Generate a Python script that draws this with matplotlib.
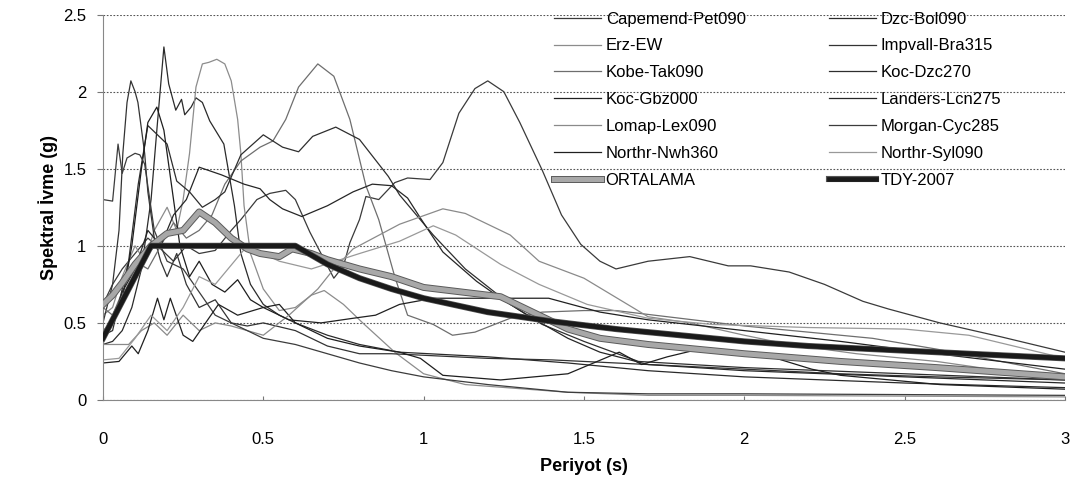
import matplotlib
matplotlib.use("Agg")
import matplotlib.pyplot as plt
import matplotlib.patheffects as pe

plt.rcParams['font.family'] = ['Liberation Sans', 'DejaVu Sans']

# Period (s) / spectral acceleration (g) pairs
t_capemend = [0, 0.03, 0.06, 0.1, 0.14, 0.18, 0.22, 0.26, 0.3, 0.35, 0.4, 0.43, 0.48, 0.52, 0.57, 0.6,
              0.645, 0.7, 0.72, 0.75, 0.77, 0.8, 0.82, 0.86, 0.91, 0.95, 1.02, 1.06, 1.11, 1.16, 1.2,
              1.25, 1.3, 1.37, 1.43, 1.49, 1.55, 1.6, 1.7, 1.83, 1.95, 2.02, 2.14, 2.25, 2.37, 2.45,
              2.61, 2.8, 3.0]
sa_capemend = [0.62, 0.75, 0.85, 0.95, 1.05, 0.98, 0.9, 1.0, 0.95, 0.97, 1.1, 1.17, 1.3, 1.34, 1.36, 1.3,
               1.09, 0.87, 0.79, 0.87, 1.02, 1.17, 1.32, 1.3, 1.41, 1.44, 1.43, 1.54, 1.86, 2.02, 2.07,
               2.0, 1.8, 1.49, 1.2, 1.01, 0.9, 0.85, 0.9, 0.93, 0.87, 0.87, 0.83, 0.75, 0.64, 0.59,
               0.5, 0.41, 0.31]

t_dzc_bol = [0, 0.03, 0.06, 0.09, 0.12, 0.15, 0.17, 0.19, 0.205, 0.227, 0.245, 0.255, 0.275, 0.29, 0.31,
             0.333, 0.377, 0.41, 0.43, 0.46, 0.5, 0.55, 0.6, 0.7, 0.8, 0.925, 1.2, 1.45, 1.7, 2.0, 2.5, 3.0]
sa_dzc_bol = [0.36, 0.38, 0.45, 0.6, 0.85, 1.3, 1.8, 2.29, 2.05, 1.88, 1.95, 1.85, 1.9, 1.96, 1.93,
              1.81, 1.66, 1.26, 0.95, 0.75, 0.62, 0.55, 0.5, 0.42, 0.36, 0.31, 0.28, 0.24, 0.19, 0.15, 0.11, 0.08]

t_erz = [0, 0.03, 0.06, 0.1, 0.13, 0.16, 0.2, 0.23, 0.25, 0.27, 0.29, 0.31, 0.33, 0.355, 0.38, 0.4,
         0.42, 0.43, 0.44, 0.46, 0.5, 0.55, 0.6, 0.65, 0.69, 0.75, 0.81, 0.91, 1.0, 1.13, 1.45, 1.7, 2.0, 3.0]
sa_erz = [0.55, 0.6, 0.8, 1.0, 0.9, 1.1, 1.25, 1.1, 1.3, 1.6, 2.03, 2.18, 2.19, 2.21, 2.18, 2.07,
          1.82, 1.6, 1.26, 0.95, 0.72, 0.58, 0.6, 0.68, 0.71, 0.62, 0.5, 0.31, 0.17, 0.1, 0.05, 0.03, 0.03, 0.02]

t_impvall = [0, 0.03, 0.05, 0.062, 0.075, 0.087, 0.1, 0.109, 0.13, 0.14, 0.16, 0.18, 0.2, 0.23, 0.26, 0.3,
             0.35, 0.4, 0.45, 0.5, 0.6, 0.7, 0.8, 0.9, 1.0, 1.2, 1.4, 1.6, 1.8, 2.0, 2.3, 2.6, 3.0]
sa_impvall = [0.5, 0.75, 1.1, 1.6, 1.93, 2.07, 2.0, 1.93, 1.6, 1.35, 1.05, 0.9, 0.8, 0.95, 0.75, 0.6,
              0.65, 0.5, 0.48, 0.5, 0.45, 0.35, 0.3, 0.3, 0.29, 0.27, 0.26, 0.24, 0.22, 0.2, 0.17, 0.15, 0.13]

t_kobe = [0, 0.03, 0.06, 0.1, 0.14, 0.18, 0.22, 0.26, 0.3, 0.34, 0.38, 0.43, 0.49, 0.53, 0.57, 0.61,
          0.67, 0.72, 0.77, 0.82, 0.86, 0.91, 0.95, 1.03, 1.09, 1.16, 1.27, 1.37, 1.5, 1.6, 1.8, 2.0,
          2.2, 2.4, 2.6, 2.8, 3.0]
sa_kobe = [0.6, 0.55, 0.7, 0.9, 0.85, 1.0, 1.15, 1.05, 1.1, 1.2, 1.4, 1.55, 1.64, 1.68, 1.82, 2.03,
           2.18, 2.1, 1.82, 1.39, 1.17, 0.8, 0.55, 0.49, 0.42, 0.44, 0.53, 0.57, 0.58, 0.58, 0.53, 0.48,
           0.44, 0.4, 0.33, 0.25, 0.17]

t_koc_dzc = [0, 0.03, 0.08, 0.11, 0.14, 0.17, 0.2, 0.23, 0.27, 0.31, 0.35, 0.38, 0.43, 0.5, 0.56, 0.61,
             0.654, 0.726, 0.8, 0.89, 0.925, 1.03, 1.13, 1.27, 1.37, 1.5, 1.67, 2.0, 2.5, 3.0]
sa_koc_dzc = [0.42, 0.45, 0.9, 1.4, 1.78, 1.72, 1.66, 1.42, 1.35, 1.25, 1.3, 1.35, 1.59, 1.72, 1.64, 1.61,
              1.71, 1.77, 1.69, 1.45, 1.33, 1.07, 0.85, 0.62, 0.49, 0.38, 0.25, 0.21, 0.17, 0.13]

t_koc_gbz = [0, 0.03, 0.06, 0.09, 0.12, 0.14, 0.168, 0.19, 0.21, 0.24, 0.27, 0.3, 0.34, 0.38, 0.42, 0.46,
             0.5, 0.55, 0.6, 0.7, 0.8, 0.925, 0.99, 1.06, 1.24, 1.45, 1.61, 1.68, 1.76, 1.86, 2.02, 2.1,
             2.21, 2.3, 2.61, 3.0]
sa_koc_gbz = [0.4, 0.5, 0.65, 1.0, 1.5, 1.8, 1.9, 1.75, 1.45, 1.0, 0.8, 0.9, 0.75, 0.7, 0.78, 0.65,
              0.6, 0.62, 0.5, 0.4, 0.35, 0.31, 0.27, 0.16, 0.13, 0.17, 0.31, 0.23, 0.28, 0.33, 0.31, 0.27,
              0.2, 0.16, 0.1, 0.07]

t_landers = [0, 0.03, 0.06, 0.1, 0.14, 0.18, 0.22, 0.26, 0.3, 0.37, 0.44, 0.49, 0.52, 0.56, 0.62, 0.7,
             0.78, 0.84, 0.9, 0.95, 0.99, 1.06, 1.165, 1.24, 1.34, 1.45, 1.55, 1.7, 2.0, 2.5, 3.0]
sa_landers = [0.45, 0.5, 0.7, 0.85, 1.1, 1.0, 1.2, 1.3, 1.51, 1.46, 1.4, 1.37, 1.3, 1.24, 1.19, 1.26,
              1.35, 1.4, 1.39, 1.31, 1.18, 0.96, 0.77, 0.66, 0.53, 0.4, 0.31, 0.23, 0.19, 0.15, 0.11]

t_lomap = [0, 0.08, 0.12, 0.16, 0.2, 0.25, 0.3, 0.35, 0.4, 0.5, 0.58, 0.67, 0.72, 0.78, 0.925, 1.06,
           1.13, 1.27, 1.36, 1.5, 1.7, 1.83, 2.0, 2.14, 2.35, 2.6, 2.8, 3.0]
sa_lomap = [0.36, 0.36, 0.45, 0.5, 0.42, 0.55, 0.45, 0.5, 0.48, 0.42, 0.55, 0.72, 0.85, 0.98, 1.14, 1.24,
            1.21, 1.07, 0.9, 0.79, 0.54, 0.5, 0.42, 0.36, 0.3, 0.25, 0.19, 0.16]

t_morgan = [0, 0.03, 0.047, 0.06, 0.075, 0.1, 0.115, 0.13, 0.16, 0.2, 0.25, 0.3, 0.35, 0.4, 0.5, 0.6,
            0.7, 0.8, 0.9, 1.0, 1.2, 1.45, 1.7, 2.0, 2.5, 3.0]
sa_morgan = [1.3, 1.29, 1.66, 1.47, 1.57, 1.6, 1.59, 1.53, 1.1, 0.9, 0.85, 0.7, 0.55, 0.5, 0.4, 0.36,
             0.3, 0.24, 0.19, 0.15, 0.1, 0.05, 0.04, 0.04, 0.035, 0.03]

t_nwh = [0, 0.05, 0.09, 0.11, 0.14, 0.17, 0.19, 0.21, 0.25, 0.28, 0.32, 0.36, 0.42, 0.5, 0.58, 0.68,
         0.78, 0.85, 0.925, 1.03, 1.24, 1.39, 1.55, 1.7, 2.0, 2.3, 2.6, 3.0]
sa_nwh = [0.24, 0.25, 0.35, 0.3, 0.45, 0.66, 0.52, 0.66, 0.42, 0.38, 0.5, 0.62, 0.55, 0.6, 0.52, 0.5,
          0.53, 0.55, 0.62, 0.66, 0.66, 0.66, 0.57, 0.52, 0.45, 0.38, 0.3, 0.2]

t_syl = [0, 0.05, 0.1, 0.15, 0.2, 0.25, 0.3, 0.35, 0.45, 0.55, 0.65, 0.8, 0.925, 1.03, 1.1, 1.24, 1.36,
         1.51, 1.7, 1.9, 2.2, 2.5, 2.7, 3.0]
sa_syl = [0.26, 0.27, 0.4, 0.55, 0.45, 0.6, 0.8, 0.75, 1.0, 0.9, 0.85, 0.95, 1.03, 1.13, 1.07, 0.88, 0.75,
          0.62, 0.53, 0.49, 0.47, 0.46, 0.42, 0.27]

t_ort = [0, 0.03, 0.06, 0.1, 0.15, 0.2, 0.25, 0.3, 0.35, 0.4, 0.45, 0.49, 0.55, 0.59, 0.65, 0.7, 0.8,
         0.9, 1.0, 1.08, 1.24, 1.34, 1.45, 1.55, 1.7, 2.0, 2.3, 2.6, 3.0]
sa_ort = [0.62, 0.68, 0.76, 0.88, 1.0, 1.08, 1.1, 1.22, 1.15, 1.05, 0.98, 0.95, 0.93, 0.98, 0.95, 0.91, 0.85,
          0.8, 0.73, 0.71, 0.67, 0.57, 0.46, 0.4, 0.36, 0.3, 0.25, 0.21, 0.15]

t_tdy = [0, 0.15, 0.6, 0.7, 0.8, 0.9, 1.0, 1.2, 1.4, 1.6, 1.8, 2.0, 2.2, 2.4, 2.6, 2.8, 3.0]
sa_tdy = [0.4, 1.0, 1.0, 0.88, 0.79, 0.72, 0.66, 0.57, 0.51, 0.46, 0.42, 0.38, 0.35, 0.33, 0.31, 0.29, 0.27]

records = [
    ("Capemend-Pet090", t_capemend, sa_capemend, "#3a3a3a"),
    ("Dzc-Bol090", t_dzc_bol, sa_dzc_bol, "#2a2a2a"),
    ("Erz-EW", t_erz, sa_erz, "#8c8c8c"),
    ("Impvall-Bra315", t_impvall, sa_impvall, "#333333"),
    ("Kobe-Tak090", t_kobe, sa_kobe, "#6e6e6e"),
    ("Koc-Dzc270", t_koc_dzc, sa_koc_dzc, "#2e2e2e"),
    ("Koc-Gbz000", t_koc_gbz, sa_koc_gbz, "#1e1e1e"),
    ("Landers-Lcn275", t_landers, sa_landers, "#262626"),
    ("Lomap-Lex090", t_lomap, sa_lomap, "#8a8a8a"),
    ("Morgan-Cyc285", t_morgan, sa_morgan, "#3c3c3c"),
    ("Northr-Nwh360", t_nwh, sa_nwh, "#202020"),
    ("Northr-Syl090", t_syl, sa_syl, "#999999"),
]

fig = plt.figure(figsize=(10.76, 4.86), dpi=100)
ax = fig.add_axes([0.0957, 0.177, 0.894, 0.793])

handles = []
for name, t, sa, col in records:
    h, = ax.plot(t, sa, color=col, lw=0.9, label=name)
    handles.append(h)

h, = ax.plot(t_ort, sa_ort, color="#a8a8a8", lw=3.6, label="ORTALAMA", zorder=5,
             path_effects=[pe.Stroke(linewidth=5, foreground="#5a5a5a"), pe.Normal()])
handles.append(h)
h, = ax.plot(t_tdy, sa_tdy, color="#1a1a1a", lw=3.4, label="TDY-2007", zorder=6,
             path_effects=[pe.Stroke(linewidth=4.4, foreground="#555555"), pe.Normal()])
handles.append(h)

ax.set_xlim(0, 3)
ax.set_ylim(0, 2.5)
ax.set_xticks([0, 0.5, 1, 1.5, 2, 2.5, 3])
ax.set_xticklabels(["0", "0.5", "1", "1.5", "2", "2.5", "3"])
ax.set_yticks([0, 0.5, 1, 1.5, 2, 2.5])
ax.set_yticklabels(["0", "0.5", "1", "1.5", "2", "2.5"])
ax.tick_params(axis="x", direction="in", length=3, color="#777777", labelsize=12, pad=23)
ax.tick_params(axis="y", direction="out", length=4, color="#777777", labelsize=12, pad=8)
ax.yaxis.grid(True, linestyle=(0, (1.5, 1.5)), color="#555555", lw=0.8)
for s in ["top", "right"]:
    ax.spines[s].set_visible(False)
ax.spines["left"].set_color("#888888")
ax.spines["bottom"].set_color("#888888")

ax.set_xlabel("Periyot (s)", fontsize=13, fontweight="bold", labelpad=8)
ax.set_ylabel("Spektral İvme (g)", fontsize=13, fontweight="bold", labelpad=4)

# legend is filled row by row in the original
order = handles[0::2] + handles[1::2]
ax.legend(handles=order, ncol=2, frameon=False, loc="upper left", bbox_to_anchor=(0.462, 1.025),
          fontsize=12, handlelength=2.8, handletextpad=0.3, labelspacing=0.71,
          columnspacing=5.0, borderaxespad=0)

fig.savefig("out.png", dpi=100)
